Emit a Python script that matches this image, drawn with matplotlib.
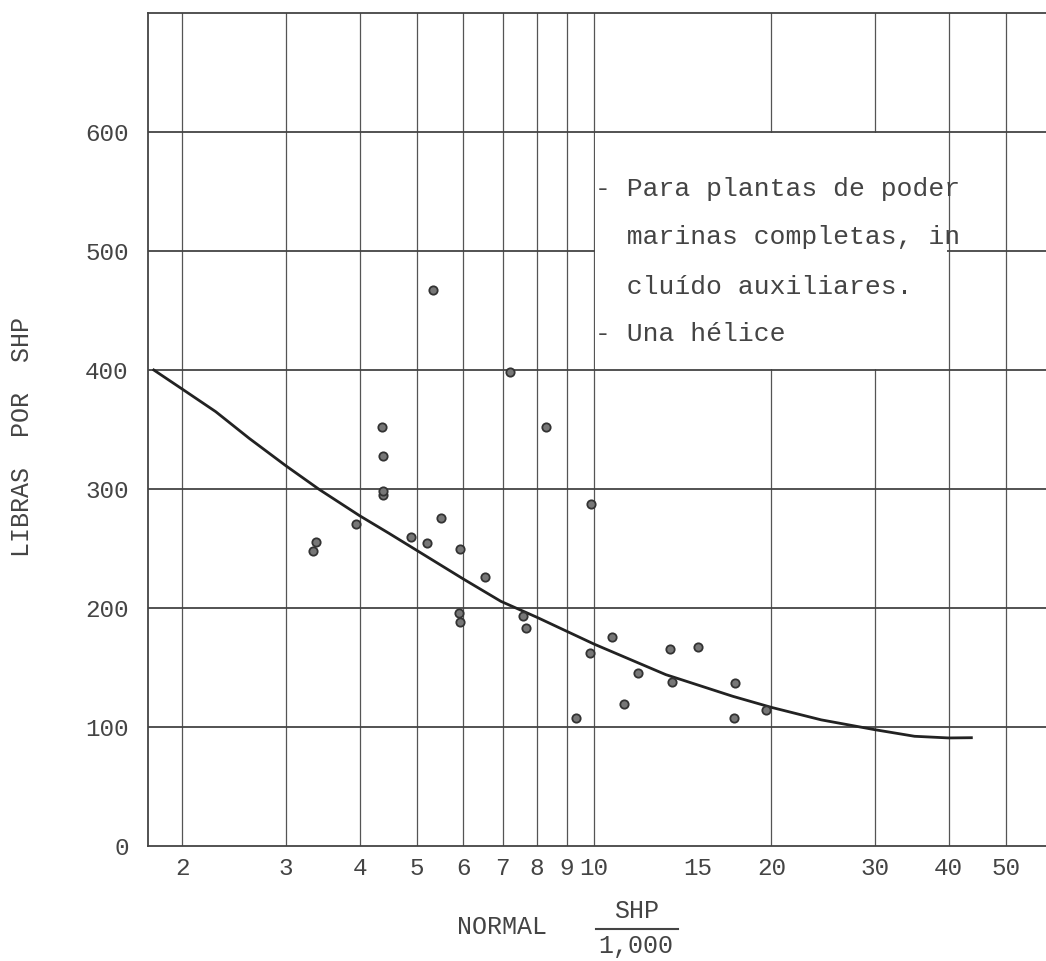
import numpy as np
import matplotlib.pyplot as plt
from matplotlib.patches import Rectangle

# scatter data (normal SHP / 1000 vs libras por SHP)
shp_k = [5.33, 7.2, 4.37, 8.3, 4.39, 4.39, 4.39, 9.9, 3.94, 3.37, 3.34,
         5.49, 4.9, 5.21, 5.92, 6.53, 5.9, 5.92, 7.59, 7.66, 10.74, 9.85,
         9.33, 11.88, 11.26, 13.47, 13.55, 15.03, 17.32, 17.26, 19.6]
lb_per_shp = [467, 398, 352, 352, 328, 295, 298, 287, 271, 255.5, 247.6,
              275.6, 259.6, 255, 249.6, 226, 196, 188, 193.5, 183.2, 175.6, 162.2,
              107.6, 145, 119.5, 165.3, 137.6, 167.5, 137.3, 107.6, 114.6]

# trend curve, points
curve_x = [1.79, 2.0, 2.28, 2.6, 3.0, 3.42, 4.0, 4.48, 5.0, 6.0, 6.95,
           8.0, 10.0, 13.24, 17.2, 20.0, 24.3, 30.0, 35.0, 40.0, 43.7]
curve_y = [400, 384, 365, 342.5, 319.5, 299.5, 277.6, 263, 248.5, 224.4, 205.6,
           192.2, 169.7, 144, 125.8, 116.5, 106, 97.7, 92.2, 90.8, 91]

x_ticks = [2, 3, 4, 5, 6, 7, 8, 9, 10, 15, 20, 30, 40, 50]
x_grid = [2, 3, 4, 5, 6, 7, 8, 9, 10, 20, 30, 40, 50]
y_ticks = [0, 100, 200, 300, 400, 500, 600]

note_lines = ["- Para plantas de poder",
              "  marinas completas, in",
              "  clu\u00eddo auxiliares.",
              "- Una h\u00e9lice"]

mono = ["Liberation Mono", "DejaVu Sans Mono"]
ink = "#444444"

fig = plt.figure(figsize=(10.46, 9.61), dpi=100)
ax = fig.add_axes([148 / 1046, 115 / 961, 898 / 1046, 833 / 961])

ax.set_xscale("log")
ax.set_xlim(1.75, 58.5)
ax.set_ylim(0, 700)

# hand-drawn style grid
for gx in x_grid:
    ax.axvline(gx, color="#555555", lw=0.9, zorder=1)
for gy in y_ticks[1:]:
    ax.axhline(gy, color="#444444", lw=1.3, zorder=1)

# white patch behind the note, grid is blanked there
ax.add_patch(Rectangle((10.05, 400.8), 39.75 - 10.05, 599.2 - 400.8,
                       facecolor="white", edgecolor="none", zorder=2))

ax.plot(curve_x, curve_y, color="#222222", lw=2.0, zorder=3)
ax.plot(shp_k, lb_per_shp, "o", ms=6, mfc="#777777", mec="#333333",
        mew=1.3, zorder=4)

note_y = [546, 506, 464, 424]
for line, ty in zip(note_lines, note_y):
    ax.text(10.05, ty, line, family=mono, fontsize=19, color=ink,
            va="baseline", ha="left", zorder=5)

ax.set_xticks(x_ticks)
ax.set_xticklabels([str(t) for t in x_ticks])
ax.xaxis.set_minor_locator(plt.NullLocator())
ax.set_yticks(y_ticks)
ax.tick_params(axis="both", length=0, labelsize=17.5, labelcolor=ink)
ax.tick_params(axis="x", pad=8)
ax.tick_params(axis="y", pad=14)
for lab in ax.get_xticklabels() + ax.get_yticklabels():
    lab.set_family(mono)

for side in ["left", "bottom", "top"]:
    ax.spines[side].set_color("#444444")
    ax.spines[side].set_linewidth(1.3)
ax.spines["right"].set_visible(False)

# axis titles
fig.text(22 / 1046, 1 - 437 / 961, "LIBRAS  POR  SHP", rotation=90,
         family=mono, fontsize=18, color=ink, ha="center", va="center")
fig.text(502 / 1046, 1 - 927 / 961, "NORMAL", family=mono, fontsize=18,
         color=ink, ha="center", va="center")
fig.text(637 / 1046, 1 - 911 / 961, "SHP", family=mono, fontsize=18,
         color=ink, ha="center", va="center")
fig.add_artist(plt.Line2D([596 / 1046, 678 / 1046],
                          [1 - 929 / 961, 1 - 929 / 961],
                          color=ink, lw=1.5))
fig.text(636 / 1046, 1 - 946 / 961, "1,000", family=mono, fontsize=18,
         color=ink, ha="center", va="center")

plt.savefig("out.png", dpi=100)
